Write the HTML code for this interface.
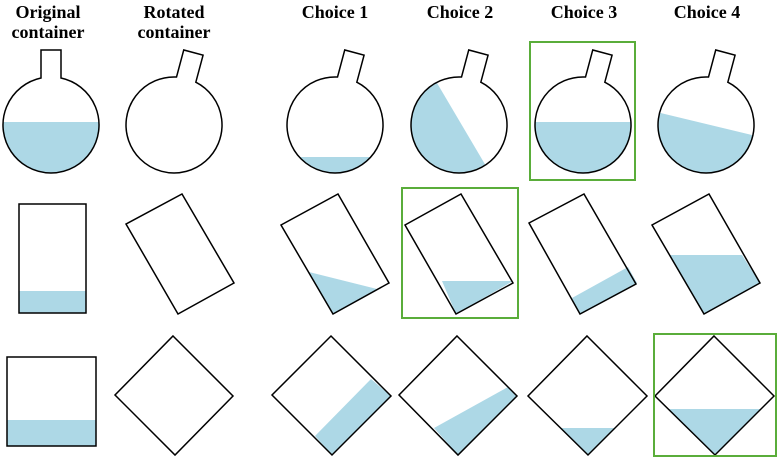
<!DOCTYPE html>
<html><head><meta charset="utf-8"><style>body{margin:0;background:#fff}svg{display:block}</style></head><body>
<svg width="777" height="457" viewBox="0 0 777 457" xmlns="http://www.w3.org/2000/svg">
<defs>
<clipPath id="c1"><circle cx="51" cy="125" r="48"/></clipPath>
<clipPath id="c3"><circle cx="335" cy="125" r="48"/></clipPath>
<clipPath id="c4"><circle cx="459" cy="125" r="48"/></clipPath>
<clipPath id="c5"><circle cx="583" cy="125" r="48"/></clipPath>
<clipPath id="c6"><circle cx="706" cy="125" r="48"/></clipPath>
</defs>
<g font-family="Liberation Serif, serif" font-weight="bold" font-size="18" text-anchor="middle" fill="#000">
<text x="48" y="18">Original</text><text x="48" y="38">container</text>
<text x="174" y="18">Rotated</text><text x="174" y="38">container</text>
<text x="335" y="18">Choice 1</text><text x="460" y="18">Choice 2</text>
<text x="584" y="18">Choice 3</text><text x="707" y="18">Choice 4</text>
</g>
<g fill="#add8e6">
<rect x="0" y="122" width="110" height="60" clip-path="url(#c1)"/>
<rect x="280" y="157" width="110" height="30" clip-path="url(#c3)"/>
<polygon points="437,83 486,166 400,200 400,60" clip-path="url(#c4)"/>
<rect x="530" y="122" width="110" height="60" clip-path="url(#c5)"/>
<polygon points="640,108 756,136 760,190 640,190" clip-path="url(#c6)"/>
</g>
<g fill="none" stroke="#000" stroke-width="1.5">
<path d="M41,78 L41,50 L61,50 L61,78 A48,48 0 1 1 41,78 Z"/>
<g transform="rotate(15 174 125)"><path d="M164,78 L164,50 L184,50 L184,78 A48,48 0 1 1 164,78 Z"/></g>
<g transform="rotate(15 335 125)"><path d="M325,78 L325,50 L345,50 L345,78 A48,48 0 1 1 325,78 Z"/></g>
<g transform="rotate(15 459 125)"><path d="M449,78 L449,50 L469,50 L469,78 A48,48 0 1 1 449,78 Z"/></g>
<g transform="rotate(15 583 125)"><path d="M573,78 L573,50 L593,50 L593,78 A48,48 0 1 1 573,78 Z"/></g>
<g transform="rotate(15 706 125)"><path d="M696,78 L696,50 L716,50 L716,78 A48,48 0 1 1 696,78 Z"/></g>
</g>
<!-- row 2 -->
<g fill="#add8e6">
<rect x="19" y="291" width="67" height="22"/>
<polygon points="309,272 377,289 333,314"/>
<polygon points="442,281 513,281 456,314"/>
<polygon points="572,298 628,267 637,283 580,314"/>
<polygon points="670,255 742,255 760,283 704,314"/>
</g>
<g fill="none" stroke="#000" stroke-width="1.5">
<rect x="19" y="204" width="67" height="109"/>
<polygon points="126,224 182,194 234,283 178,314"/>
<polygon points="281,225 338,194 389,283 333,314"/>
<polygon points="405,225 461,194 513,283 456,314"/>
<polygon points="529,223 584,194 636,284 580,314"/>
<polygon points="652,225 709,194 760,283 704,314"/>
</g>
<!-- row 3 -->
<g fill="#add8e6">
<rect x="7" y="420" width="89" height="26"/>
<polygon points="315,436 371,379 391,396 332,455"/>
<polygon points="434,428 508,387 517,396 458,455"/>
<polygon points="561,428 615,428 588,455"/>
<polygon points="668,409 761,409 715,455"/>
</g>
<g fill="none" stroke="#000" stroke-width="1.5">
<rect x="7" y="357" width="89" height="89"/>
<polygon points="173,336 233,396 175,455 115,395"/>
<polygon points="331,336 391,396 332,455 272,395"/>
<polygon points="457,336 517,396 458,455 399,395"/>
<polygon points="587,336 647,396 588,455 528,396"/>
<polygon points="714,336 774,396 715,455 655,396"/>
</g>
<g fill="none" stroke="#5aad3a" stroke-width="2">
<rect x="530" y="42" width="105" height="138"/>
<rect x="402" y="188" width="116" height="130"/>
<rect x="654" y="334" width="122" height="122"/>
</g>
</svg>
</body></html>
